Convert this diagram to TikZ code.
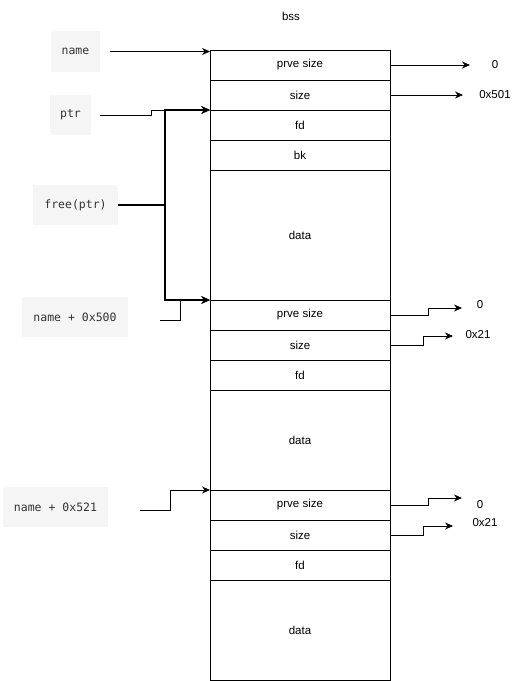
\documentclass[tikz,border=0pt]{standalone}
\usepackage{fontspec}
\setmainfont{Liberation Sans}
\newfontfamily\monofont{DejaVu Sans Mono}
\usetikzlibrary{arrows.meta}
\definecolor{boxfill}{HTML}{F5F5F5}
\definecolor{monotext}{HTML}{333333}
\begin{document}
\begin{tikzpicture}[x=1pt,y=-1pt,
  cell/.style={draw, line width=0.8pt, minimum width=180pt, inner sep=0pt, outer sep=0pt,
    anchor=north west, font=\fontsize{11.5}{13}\selectfont},
  lbl/.style={fill=boxfill, text=monotext, inner sep=0pt, font=\monofont\fontsize{11.5}{13}\selectfont},
  val/.style={inner sep=0pt, font=\fontsize{11.5}{13}\selectfont},
  arr/.style={line width=0.8pt, -{Stealth[length=8pt,width=7pt]}},
  thk/.style={line width=2pt},
  thkarr/.style={line width=2pt, -{Stealth[length=9pt,width=8pt]}}]
\useasboundingbox (0,0) rectangle (525,681);
\node[val] (bss) at (291,16) {bss};
% column
\node[cell, minimum height=30pt] (c1) at (210,50) {prve size};
\node[cell, minimum height=30pt] (c2) at (210,80) {size};
\node[cell, minimum height=30pt] (c3) at (210,110) {fd};
\node[cell, minimum height=30pt] (c4) at (210,140) {bk};
\node[cell, minimum height=130pt] (c5) at (210,170) {data};
\node[cell, minimum height=30pt] (c6) at (210,300) {prve size};
\node[cell, minimum height=30pt] (c7) at (210,330) {size};
\node[cell, minimum height=30pt] (c8) at (210,360) {fd};
\node[cell, minimum height=100pt] (c9) at (210,390) {data};
\node[cell, minimum height=30pt] (c10) at (210,490) {prve size};
\node[cell, minimum height=30pt] (c11) at (210,520) {size};
\node[cell, minimum height=30pt] (c12) at (210,550) {fd};
\node[cell, minimum height=100pt] (c13) at (210,580) {data};
% left labels
\node[lbl, minimum width=49pt, minimum height=41pt] (nm) at (75.5,51.5) {name};
\node[lbl, minimum width=41pt, minimum height=40pt] (ptr) at (70.5,115) {ptr};
\node[lbl, minimum width=85pt, minimum height=40pt] (fr) at (75.5,205) {free(ptr)};
\node[lbl, minimum width=106pt, minimum height=40pt] (n500) at (75,317) {name + 0x500};
\node[lbl, minimum width=105pt, minimum height=40pt] (n521) at (55.5,507) {name + 0x521};
% left connectors
\draw[arr] ([xshift=10pt]nm.east) -- (nm.east -| c1.west);
\draw[arr] ([xshift=9pt]ptr.east) -- (151,115) |- (c3.north west);
\coordinate (bj) at (165,205);
\draw[thk] (fr.east) -- (bj);
\draw[thkarr] (bj) |- (c3.north west);
\draw[thkarr] (bj) |- (c6.north west);
\coordinate (s500) at (160,320);
\coordinate (s521) at (140,510);
\draw[arr] (s500) -- (180,320) |- (c6.north west);
\draw[arr] (s521) -- (170,510) |- (c10.north west);
% right values
\node[val] (v1) at (495,65) {0};
\node[val] (v2) at (495,95) {0x501};
\node[val] (v6) at (480,305) {0};
\node[val] (v7) at (478,335) {0x21};
\node[val] (v10) at (480,505) {0};
\node[val] (v11) at (485,523) {0x21};
\coordinate (t1) at (470,65);
\coordinate (t2) at (463,95);
\coordinate (t6) at (462,308);
\coordinate (t7) at (453,336);
\coordinate (t10) at (462,498);
\coordinate (t11) at (453,526);
\draw[arr] (c1.east) -- (t1);
\draw[arr] (c2.east) -- (t2);
\draw[arr] (c6.east) -- (428,315) |- (t6);
\draw[arr] (c7.east) -- (423,345) |- (t7);
\draw[arr] (c10.east) -- (428,505) |- (t10);
\draw[arr] (c11.east) -- (423,535) |- (t11);
\end{tikzpicture}
\end{document}
